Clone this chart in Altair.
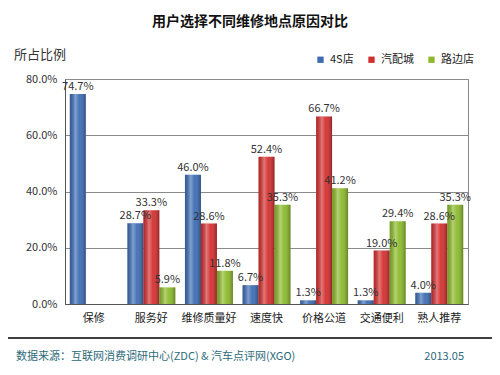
import altair as alt
import pandas as pd

categories = ["保修", "服务好", "维修质量好", "速度快", "价格公道", "交通便利", "熟人推荐"]
series = ["4S店", "汽配城", "路边店"]
v_4s = [74.7, 28.7, 46.0, 6.7, 1.3, 1.3, 4.0]
v_qpc = [None, 33.3, 28.6, 52.4, 66.7, 19.0, 28.6]
v_lbd = [None, 5.9, 11.8, 35.3, 41.2, 29.4, 35.3]
colors = ["#3d6cb4", "#d42f2f", "#8cba2c"]
y_ticks = [0, 20, 40, 60, 80]

rows = []
for s, vals in zip(series, [v_4s, v_qpc, v_lbd]):
    for c, v in zip(categories, vals):
        if v is not None:
            rows.append({"cat": c, "series": s, "val": v, "label": f"{v:.1f}%"})
df = pd.DataFrame(rows)

W, H = 403, 225
FONT = "Noto Sans CJK SC"

x_enc = alt.X("cat:N", sort=categories,
              scale=alt.Scale(paddingInner=0.167, paddingOuter=0.083),
              axis=alt.Axis(title=None, labelAngle=0, labelFontSize=11, labelColor="#222",
                            labelFont=FONT, ticks=False, domainColor="#555", labelPadding=8))
xoff = alt.XOffset("series:N", sort=series, scale=alt.Scale(paddingInner=0, paddingOuter=0))
y_enc = alt.Y("val:Q", scale=alt.Scale(domain=[0, 80]),
              axis=alt.Axis(title=None, values=y_ticks, labelExpr="format(datum.value,'.1f')+'%'",
                            labelFontSize=11, labelColor="#333", labelFont=FONT,
                            grid=True, gridColor="#8a8a8a", ticks=False, domainColor="#555",
                            labelPadding=8))

base = alt.Chart(df)

bars = base.mark_bar().encode(
    x=x_enc, xOffset=xoff, y=y_enc,
    color=alt.Color("series:N", sort=series,
                    scale=alt.Scale(domain=series, range=colors),
                    legend=alt.Legend(title=None, orient="none", direction="horizontal",
                                      legendX=250, legendY=-25, symbolType="square",
                                      symbolSize=40, labelFontSize=11, labelFont=FONT,
                                      labelColor="#222", columnPadding=12, symbolStrokeWidth=0))
)

shade = base.mark_bar(
    fill=alt.Gradient(gradient="linear", x1=0, x2=1, y1=0, y2=0,
                      stops=[alt.GradientStop(offset=0, color="rgba(0,0,0,0.15)"),
                             alt.GradientStop(offset=0.35, color="rgba(255,255,255,0.35)"),
                             alt.GradientStop(offset=0.6, color="rgba(255,255,255,0.05)"),
                             alt.GradientStop(offset=1, color="rgba(0,0,0,0.3)")])
).encode(x=x_enc, xOffset=xoff, y=y_enc)

labels = base.mark_text(dy=-7, fontSize=11, color="#333", font=FONT).encode(
    x=x_enc, xOffset=xoff, y=y_enc, text="label:N")

title = alt.Chart(pd.DataFrame({"t": ["用户选择不同维修地点原因对比"]})).mark_text(
    fontSize=14, fontWeight="bold", font=FONT, color="#111").encode(
    x=alt.value(185), y=alt.value(-57), text="t:N")

ytitle = alt.Chart(pd.DataFrame({"t": ["所占比例"]})).mark_text(
    fontSize=13, font=FONT, color="#333", align="left").encode(
    x=alt.value(-51), y=alt.value(-24), text="t:N")

sep = alt.Chart(pd.DataFrame({"a": [0]})).mark_rule(color="#000", strokeWidth=1.5).encode(
    x=alt.value(-62), x2=alt.value(W + 28), y=alt.value(259))

foot_l = alt.Chart(pd.DataFrame({"t": ["数据来源：互联网消费调研中心(ZDC) & 汽车点评网(XGO)"]})).mark_text(
    fontSize=11, font=FONT, color="#2d6a7a", align="left").encode(
    x=alt.value(-49), y=alt.value(278), text="t:N")

foot_r = alt.Chart(pd.DataFrame({"t": ["2013.05"]})).mark_text(
    fontSize=11, font=FONT, color="#2d6a7a", align="right").encode(
    x=alt.value(399), y=alt.value(278), text="t:N")

chart = alt.layer(bars, shade, labels, title, ytitle, sep, foot_l, foot_r).properties(
    width=W, height=H,
    autosize=alt.AutoSizeParams(type="none"),
    padding={"left": 57, "top": 71, "right": 24, "bottom": 63},
    background="white"
).configure_view(stroke="#888", strokeWidth=1)

chart.save("out.html", embed_options={"renderer": "svg", "actions": False})
